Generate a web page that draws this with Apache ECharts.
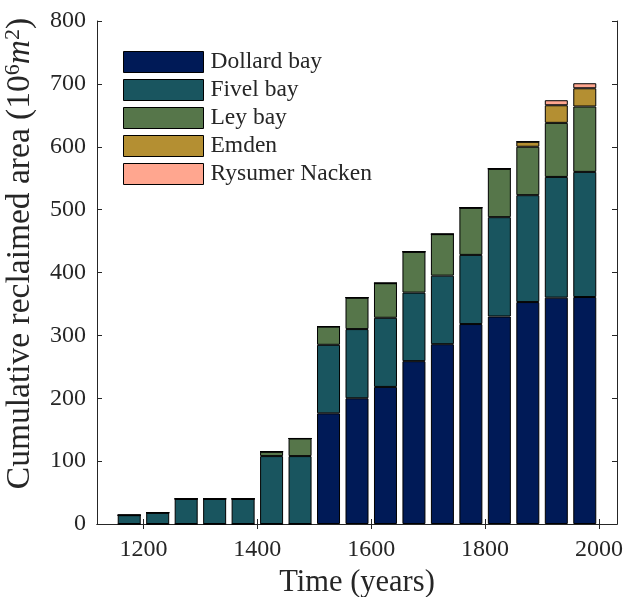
<!DOCTYPE html>
<html>
<head>
<meta charset="utf-8">
<script src="https://cdn.jsdelivr.net/npm/echarts@6/dist/echarts.min.js"></script>
<style>html,body{margin:0;padding:0;background:#fff}#c{width:623px;height:597px}</style>
</head>
<body>
<div id="c"></div>
<script>
const years   = [1175,1225,1275,1325,1375,1425,1475,1525,1575,1625,1675,1725,1775,1825,1875,1925,1975];
const dollard = [0,0,0,0,0,0,0,176,200,218,259,286,318,330,353,360,361];
const fivel   = [14,18,40,40,40,108,108,109,110,110,109,109,110,158,170,192,199];
const ley     = [0,0,0,0,0,7,28,29,50,55,65,66,75,77,77,86,104];
const emden   = [0,0,0,0,0,0,0,0,0,0,0,0,0,0,8,28,29];
const rysumer = [0,0,0,0,0,0,0,0,0,0,0,0,0,0,0,8,8];
const seriesNames = ['Dollard bay','Fivel bay','Ley bay','Emden','Rysumer Nacken'];
const xTicks = [1200,1400,1600,1800,2000];

const colors = ['#001a57','#19555f','#56764a','#b48f32','#ffa68f'];
const values = [dollard, fivel, ley, emden, rysumer];
const txt = '#262626';
const font = 'Liberation Serif';

const chart = echarts.init(document.getElementById('c'), null, {renderer:'canvas'});
const xMin = 1118.4, xMax = 2031.6;
const axisLine = {show:true, lineStyle:{color:txt, width:1}};
const option = {
  animation:false,
  backgroundColor:'#fff',
  textStyle:{fontFamily:font, color:txt},
  grid:{left:97, right:6, top:21, bottom:73, containLabel:false, outerBoundsMode:'none'},
  legend:{
    orient:'vertical', left:123, top:50, padding:0, itemWidth:80, itemHeight:21, itemGap:4,
    icon:'rect',
    textStyle:{fontSize:23.5, lineHeight:21, color:txt, fontFamily:font, padding:[0,0,0,2]},
    itemStyle:{borderColor:'#000', borderWidth:1},
    data:seriesNames
  },
  xAxis:[{
    type:'value', min:xMin, max:xMax, position:'bottom',
    axisLine:axisLine,
    axisTick:{show:true, inside:true, length:5, customValues:xTicks, lineStyle:{color:txt}},
    axisLabel:{customValues:xTicks, fontSize:24, color:txt, margin:14, fontFamily:font,
               formatter:v=>String(Math.round(v))},
    splitLine:{show:false},
    name:'Time (years)', nameLocation:'middle', nameGap:43,
    nameTextStyle:{fontSize:30.5, color:txt, fontFamily:font}
  },{
    type:'value', min:xMin, max:xMax, position:'top',
    axisLine:axisLine,
    axisTick:{show:true, inside:true, length:5, customValues:xTicks, lineStyle:{color:txt}},
    axisLabel:{show:false}, splitLine:{show:false}
  }],
  yAxis:[{
    type:'value', min:0, max:800, interval:100, position:'left',
    axisLine:axisLine,
    axisTick:{show:true, inside:true, length:5, lineStyle:{color:txt}},
    axisLabel:{fontSize:24, color:txt, margin:11, fontFamily:font},
    splitLine:{show:false},
    name:'Cumulative reclaimed area (10{sup|6}{it|m}{sup|2})',
    nameLocation:'middle', nameGap:49,
    nameTextStyle:{
      fontSize:33.5, color:txt, fontFamily:font, lineHeight:37, padding:[0,0,0,38],
      rich:{
        sup:{fontSize:22, fontFamily:font, color:txt, verticalAlign:'top', lineHeight:23},
        it:{fontSize:33.5, fontFamily:font, fontStyle:'italic', color:txt, lineHeight:37}
      }
    }
  },{
    type:'value', min:0, max:800, interval:100, position:'right',
    axisLine:axisLine,
    axisTick:{show:true, inside:true, length:5, lineStyle:{color:txt}},
    axisLabel:{show:false}, splitLine:{show:false}
  }],
  series: seriesNames.map((n,k)=>({
    name:n, type:'bar', stack:'total', barWidth:23,
    xAxisIndex:0, yAxisIndex:0,
    encode:{x:1, y:0},
    itemStyle:{color:colors[k], borderColor:'#000', borderWidth:1},
    data: years.map((y,i)=>[values[k][i], y])
  }))
};
chart.setOption(option);
</script>
</body>
</html>
